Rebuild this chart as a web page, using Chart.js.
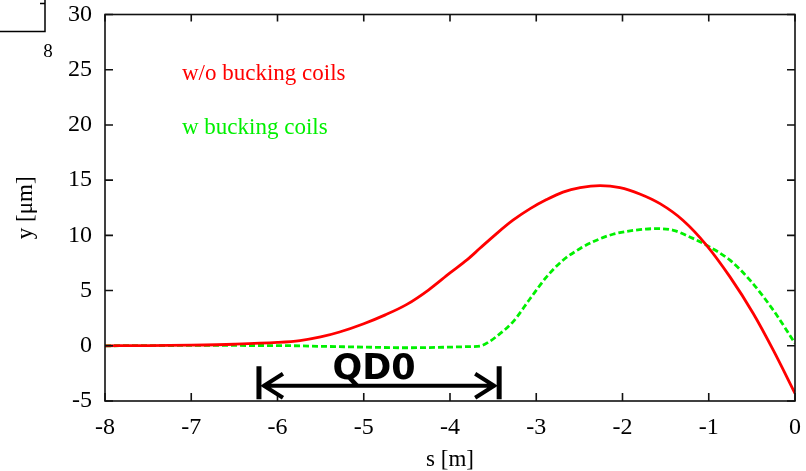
<!DOCTYPE html>
<html lang="en">
<head>
    <meta charset="UTF-8">
    <title>y vs s</title>
    <script src="https://cdn.jsdelivr.net/npm/chart.js"></script>
    <style>
        body {
            margin: 0;
            background: white;
        }
        #wrap {
            width: 806px;
            height: 471px;
        }
    </style>
</head>
<body>
    <div id="wrap">
        <canvas id="myChart" width="806" height="471"></canvas>
    </div>

    <script>
        // orbit without bucking coils: s [m], y [um]
        const sNoBucking = [-8, -7.5, -7, -6.5, -6, -5.74, -5.5, -5.28, -5, -4.75, -4.5, -4.25, -4, -3.8,
                            -3.65, -3.46, -3.27, -3.07, -2.88, -2.69, -2.49, -2.26, -2.03, -1.8,
                            -1.565, -1.3, -1.025, -0.754, -0.484, -0.252, 0];
        const yNoBucking = [0, 0.02, 0.06, 0.14, 0.3, 0.47, 0.8, 1.25, 2.0, 2.8, 3.75, 5.05, 6.6, 7.8,
                            8.85, 10.16, 11.37, 12.42, 13.24, 13.92, 14.32, 14.5, 14.32, 13.75,
                            12.87, 11.37, 9.1, 6.24, 2.93, -0.39, -4.3];
        // orbit with bucking coils
        const sBucking = [-8, -7, -6, -5.5, -5, -4.5, -4, -3.8, -3.65, -3.55, -3.46, -3.27, -3.07, -2.88, -2.69,
                          -2.49, -2.3, -2.11, -1.8, -1.6, -1.41, -1.22, -1.025, -0.754, -0.522, -0.252, 0];
        const yBucking = [0, 0.03, 0.02, -0.05, -0.12, -0.18, -0.12, -0.08, -0.02, 0.35, 0.85, 2.17, 4.28, 6.24, 7.75,
                          8.81, 9.56, 10.1, 10.52, 10.61, 10.46, 9.86, 9.1, 7.75, 5.94, 3.23, 0.22];
        const xTicks = [-8, -7, -6, -5, -4, -3, -2, -1, 0];
        const yTicks = [-5, 0, 5, 10, 15, 20, 25, 30];
        const labelNoBucking = 'w/o bucking coils';
        const labelBucking = 'w bucking coils';
        // QD0 magnet extent [m]
        const qd0Start = -6.215;
        const qd0End = -3.43;

        const serif = '"Liberation Serif", "Times New Roman", serif';
        const red = '#ff0000';
        const green = '#00f000';

        const framePlugin = {
            id: 'frame',
            afterDatasetsDraw(chart) {
                const ctx = chart.ctx;
                const a = chart.chartArea;
                const xs = chart.scales.x, ys = chart.scales.y;
                ctx.save();
                ctx.strokeStyle = '#111';
                ctx.lineWidth = 1.6;
                ctx.strokeRect(a.left, a.top, a.right - a.left, a.bottom - a.top);
                // inward ticks on all four sides
                ctx.beginPath();
                xTicks.forEach(v => {
                    const px = xs.getPixelForValue(v);
                    ctx.moveTo(px, a.bottom); ctx.lineTo(px, a.bottom - 8);
                    ctx.moveTo(px, a.top); ctx.lineTo(px, a.top + 7);
                });
                yTicks.forEach(v => {
                    const py = ys.getPixelForValue(v);
                    ctx.moveTo(a.left, py); ctx.lineTo(a.left + 8, py);
                    ctx.moveTo(a.right, py); ctx.lineTo(a.right - 8, py);
                });
                ctx.stroke();

                // series labels
                ctx.font = '23px ' + serif;
                ctx.textBaseline = 'alphabetic';
                ctx.textAlign = 'left';
                ctx.fillStyle = red;
                ctx.fillText(labelNoBucking, 182, 79.5);
                ctx.fillStyle = green;
                ctx.fillText(labelBucking, 182, 133.5);

                // QD0 span marker
                const x1 = xs.getPixelForValue(qd0Start);
                const x2 = xs.getPixelForValue(qd0End);
                const yArrow = ys.getPixelForValue(-3.62);
                const yTop = ys.getPixelForValue(-1.85);
                const yBot = ys.getPixelForValue(-4.85);
                ctx.strokeStyle = '#000';
                ctx.lineWidth = 5;
                ctx.beginPath();
                ctx.moveTo(x1, yTop); ctx.lineTo(x1, yBot);
                ctx.moveTo(x2, yTop); ctx.lineTo(x2, yBot);
                ctx.stroke();
                ctx.lineWidth = 4;
                ctx.lineJoin = 'miter';
                ctx.beginPath();
                ctx.moveTo(x1 + 4, yArrow); ctx.lineTo(x2 - 4, yArrow);
                ctx.moveTo(x1 + 24, yArrow - 12); ctx.lineTo(x1 + 5, yArrow); ctx.lineTo(x1 + 24, yArrow + 12);
                ctx.moveTo(x2 - 24, yArrow - 12); ctx.lineTo(x2 - 5, yArrow); ctx.lineTo(x2 - 24, yArrow + 12);
                ctx.stroke();
                ctx.fillStyle = '#000';
                ctx.font = 'bold 35px "DejaVu Sans", sans-serif';
                ctx.textAlign = 'center';
                ctx.textBaseline = 'middle';
                ctx.fillText('QD0', 374, 370);

                // leftover frame corner in the top-left
                ctx.lineWidth = 1.5;
                ctx.beginPath();
                ctx.moveTo(0, 31.5); ctx.lineTo(45, 31.5); ctx.lineTo(45, 0);
                ctx.moveTo(40, 3.5); ctx.lineTo(45, 3.5);
                ctx.stroke();
                ctx.font = '19px ' + serif;
                ctx.fillText('8', 48, 52);
                ctx.restore();
            }
        };

        const ctx = document.getElementById('myChart').getContext('2d');
        const myChart = new Chart(ctx, {
            type: 'line',
            data: {
                datasets: [
                    {
                        label: labelNoBucking,
                        data: sNoBucking.map((s, i) => ({ x: s, y: yNoBucking[i] })),
                        borderColor: red,
                        borderWidth: 2.8,
                        pointRadius: 0,
                        cubicInterpolationMode: 'monotone',
                        fill: false
                    },
                    {
                        label: labelBucking,
                        data: sBucking.map((s, i) => ({ x: s, y: yBucking[i] })),
                        borderColor: green,
                        borderWidth: 2.8,
                        borderDash: [6, 3],
                        pointRadius: 0,
                        cubicInterpolationMode: 'monotone',
                        fill: false
                    }
                ]
            },
            options: {
                responsive: false,
                animation: false,
                layout: { padding: { top: 14.5, right: 11, left: 0, bottom: 0 } },
                plugins: {
                    legend: { display: false },
                    tooltip: { enabled: false }
                },
                scales: {
                    x: {
                        type: 'linear',
                        min: -8,
                        max: 0,
                        afterFit: s => {
                            s.height = 70;
                            s.paddingLeft = 0;
                            s.paddingRight = 0;
                        },
                        afterBuildTicks: s => { s.ticks = xTicks.map(v => ({ value: v })); },
                        grid: { display: false, drawTicks: false },
                        border: { display: false },
                        ticks: {
                            color: '#000',
                            padding: 12,
                            maxRotation: 0,
                            font: { family: serif, size: 24 }
                        },
                        title: {
                            display: true,
                            text: 's [m]',
                            color: '#000',
                            padding: 0,
                            font: { family: serif, size: 23, lineHeight: 1 }
                        }
                    },
                    y: {
                        min: -5,
                        max: 30,
                        afterFit: s => {
                            s.width = 105;
                            s.paddingTop = 0;
                            s.paddingBottom = 0;
                        },
                        afterBuildTicks: s => { s.ticks = yTicks.map(v => ({ value: v })); },
                        grid: { display: false, drawTicks: false },
                        border: { display: false },
                        ticks: {
                            color: '#000',
                            padding: 13,
                            font: { family: serif, size: 24 }
                        },
                        title: {
                            display: true,
                            text: 'y [μm]',
                            color: '#000',
                            padding: { top: 12, bottom: 0 },
                            font: { family: serif, size: 23, lineHeight: 1.2 }
                        }
                    }
                }
            },
            plugins: [framePlugin]
        });
    </script>
</body>
</html>
